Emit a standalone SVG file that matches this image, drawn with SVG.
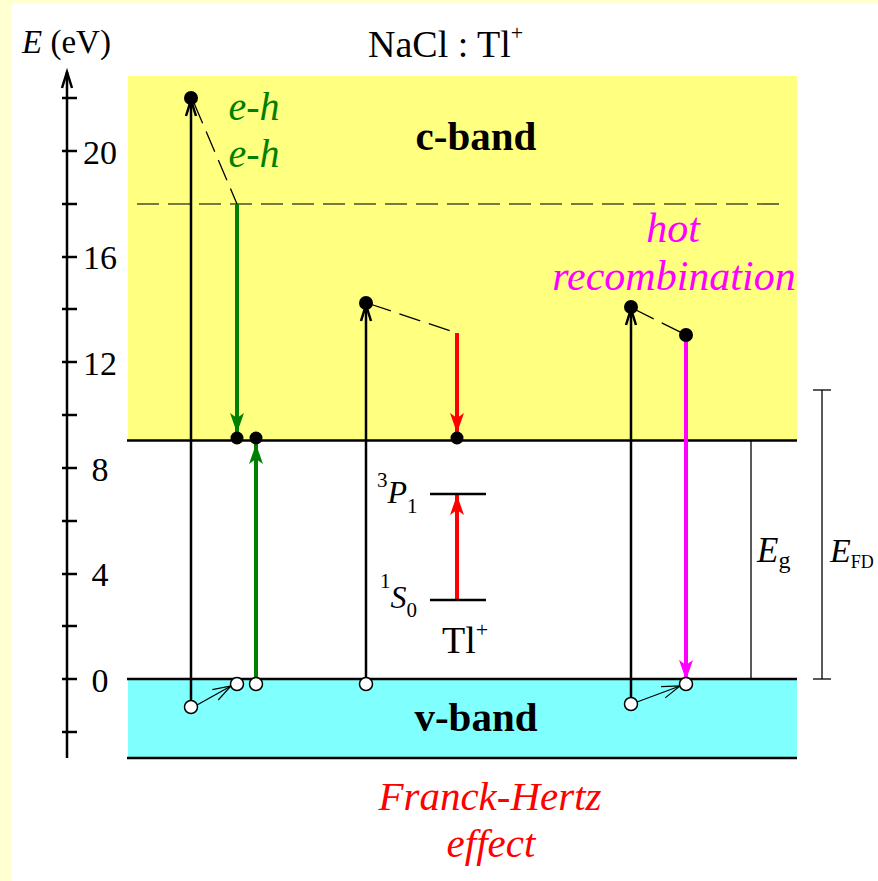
<svg xmlns="http://www.w3.org/2000/svg" width="878" height="881" viewBox="0 0 878 881">
<defs>
<style>
text{font-family:"Liberation Serif","Times New Roman",serif;fill:#000;}
.it{font-style:italic;}
.num{font-size:34px;text-anchor:middle;}
.axis{stroke:#000;stroke-width:2.5;fill:none;}
.tick{stroke:#000;stroke-width:2.5;}
.edge{stroke:#000;stroke-width:2.5;}
.exc{stroke:#000;stroke-width:2.5;fill:none;}
.thin{stroke:#000;stroke-width:1.3;fill:none;}
.dash{stroke:#000;stroke-width:1.3;stroke-dasharray:22 9;fill:none;}
.dot{fill:#000;}
.hole{fill:#fff;stroke:#000;stroke-width:1.5;}
</style>
<marker id="vhead" markerUnits="userSpaceOnUse" markerWidth="20" markerHeight="16" viewBox="-16 -8 20 16" refX="0" refY="0" orient="auto" overflow="visible">
<path d="M-16,-5 L0,0 L-16,5" fill="none" stroke="#000" stroke-width="2.5"/>
</marker>
<marker id="vthin" markerUnits="userSpaceOnUse" markerWidth="20" markerHeight="16" viewBox="-16 -8 20 16" refX="0" refY="0" orient="auto" overflow="visible">
<path d="M-18,-6 L0,0 L-18,6" fill="none" stroke="#000" stroke-width="1.2"/>
</marker>
<marker id="hgreen" markerUnits="userSpaceOnUse" markerWidth="24" markerHeight="18" viewBox="-22 -9 24 18" refX="0" refY="0" orient="auto" overflow="visible">
<path d="M0,0 L-20,-7 L-15,0 L-20,7 Z" fill="#008000"/>
</marker>
<marker id="hred" markerUnits="userSpaceOnUse" markerWidth="24" markerHeight="18" viewBox="-22 -9 24 18" refX="0" refY="0" orient="auto" overflow="visible">
<path d="M0,0 L-20,-7 L-15,0 L-20,7 Z" fill="#ff0000"/>
</marker>
<marker id="hmag" markerUnits="userSpaceOnUse" markerWidth="24" markerHeight="18" viewBox="-22 -9 24 18" refX="0" refY="0" orient="auto" overflow="visible">
<path d="M0,0 L-20,-7 L-15,0 L-20,7 Z" fill="#ff00ff"/>
</marker>
</defs>

<rect x="0" y="0" width="878" height="881" fill="#ffffd2"/>
<rect x="12" y="4" width="866" height="877" fill="#ffffff"/>

<g id="bands">
<rect x="128" y="76" width="669" height="364" fill="#ffff80"/>
<rect x="128" y="679" width="669" height="79" fill="#80ffff"/>
<line class="edge" x1="127" y1="440.5" x2="797" y2="440.5"/>
<line class="edge" x1="127" y1="679" x2="797" y2="679"/>
<line class="edge" x1="127" y1="758" x2="797" y2="758"/>
<line x1="137" y1="204" x2="785" y2="204" stroke="#4d4d30" stroke-width="1.6" stroke-dasharray="22 9"/>
<text x="476" y="150" text-anchor="middle" font-weight="bold" font-size="41">c-band</text>
<text x="476" y="731" text-anchor="middle" font-weight="bold" font-size="41">v-band</text>
</g>

<g id="axis">
<line class="axis" x1="67" y1="758" x2="67" y2="72" marker-end="url(#vhead)"/>
<line class="tick" x1="62" y1="98" x2="77" y2="98"/>
<line class="tick" x1="62" y1="151" x2="77" y2="151"/>
<line class="tick" x1="62" y1="204" x2="77" y2="204"/>
<line class="tick" x1="62" y1="257" x2="77" y2="257"/>
<line class="tick" x1="62" y1="309" x2="77" y2="309"/>
<line class="tick" x1="62" y1="362" x2="77" y2="362"/>
<line class="tick" x1="62" y1="415" x2="77" y2="415"/>
<line class="tick" x1="62" y1="468" x2="77" y2="468"/>
<line class="tick" x1="62" y1="521" x2="77" y2="521"/>
<line class="tick" x1="62" y1="574" x2="77" y2="574"/>
<line class="tick" x1="62" y1="626" x2="77" y2="626"/>
<line class="tick" x1="62" y1="679" x2="77" y2="679"/>
<line class="tick" x1="62" y1="732" x2="77" y2="732"/>
<text class="num" x="100" y="164">20</text>
<text class="num" x="100" y="269">16</text>
<text class="num" x="100" y="375">12</text>
<text class="num" x="100" y="481">8</text>
<text class="num" x="100" y="586">4</text>
<text class="num" x="100" y="692">0</text>
<text x="22" y="53" font-size="33"><tspan class="it">E</tspan> (eV)</text>
<text x="368" y="57" font-size="38">NaCl : Tl<tspan font-size="22" dy="-17">+</tspan></text>
</g>

<g id="connectors">
<!-- left e-h process -->
<line class="exc" x1="191" y1="701" x2="191" y2="100" marker-end="url(#vhead)"/>
<line class="dash" x1="194" y1="103" x2="237" y2="204"/>
<line x1="237" y1="204" x2="237" y2="433" stroke="#008000" stroke-width="4" marker-end="url(#hgreen)"/>
<line x1="256" y1="678" x2="256" y2="444" stroke="#008000" stroke-width="4" marker-end="url(#hgreen)"/>
<line class="thin" x1="197" y1="705" x2="231" y2="686" marker-end="url(#vthin)"/>
<!-- Franck-Hertz -->
<line class="exc" x1="366" y1="678" x2="366" y2="305" marker-end="url(#vhead)"/>
<line class="dash" x1="370" y1="304" x2="457" y2="333"/>
<line x1="457" y1="333" x2="457" y2="433" stroke="#ff0000" stroke-width="4" marker-end="url(#hred)"/>
<line x1="457" y1="600" x2="457" y2="495" stroke="#ff0000" stroke-width="4" marker-end="url(#hred)"/>
<!-- hot recombination -->
<line class="exc" x1="631" y1="698" x2="631" y2="309" marker-end="url(#vhead)"/>
<line class="dash" x1="634" y1="309" x2="686" y2="335"/>
<line x1="686" y1="335" x2="686" y2="680" stroke="#ff00ff" stroke-width="4" marker-end="url(#hmag)"/>
<line class="thin" x1="637" y1="702" x2="680" y2="686" marker-end="url(#vthin)"/>
<!-- energy gap bars -->
<line class="thin" x1="751" y1="440" x2="751" y2="679"/>
<line class="thin" x1="822" y1="390" x2="822" y2="679"/>
<line class="thin" x1="813" y1="390" x2="831" y2="390"/>
<line class="thin" x1="813" y1="679" x2="831" y2="679"/>
</g>

<g id="electrons">
<circle class="dot" cx="191" cy="98" r="7"/>
<circle class="dot" cx="237" cy="438" r="6.5"/>
<circle class="dot" cx="256" cy="438" r="6.5"/>
<circle class="dot" cx="366" cy="303" r="7"/>
<circle class="dot" cx="457" cy="438" r="6.5"/>
<circle class="dot" cx="631" cy="307" r="7"/>
<circle class="dot" cx="686" cy="335" r="7"/>
</g>

<g id="holes">
<circle class="hole" cx="191" cy="707" r="6.5"/>
<circle class="hole" cx="237" cy="684" r="6.5"/>
<circle class="hole" cx="256" cy="684" r="6.5"/>
<circle class="hole" cx="366" cy="684" r="6.5"/>
<circle class="hole" cx="631" cy="704" r="6.5"/>
<circle class="hole" cx="686" cy="684" r="6.5"/>
</g>

<g id="tl-levels">
<line class="edge" x1="430" y1="494" x2="486" y2="494"/>
<line class="edge" x1="430" y1="600" x2="486" y2="600"/>
<text x="377" y="503" font-size="32"><tspan font-size="21" dy="-16">3</tspan><tspan class="it" dy="16">P</tspan><tspan font-size="21" dy="10">1</tspan></text>
<text x="380" y="608" font-size="32"><tspan font-size="21" dy="-20">1</tspan><tspan class="it" dy="20">S</tspan><tspan font-size="21" dy="9">0</tspan></text>
<text x="442" y="653" font-size="38">Tl<tspan font-size="22" dy="-16">+</tspan></text>
</g>

<g id="labels">
<text class="it" x="254" y="120" text-anchor="middle" font-size="40" style="fill:#008000">e-h</text>
<text class="it" x="254" y="167" text-anchor="middle" font-size="40" style="fill:#008000">e-h</text>
<text class="it" x="673" y="242" text-anchor="middle" font-size="42" style="fill:#ff00ff">hot</text>
<text class="it" x="674" y="290" text-anchor="middle" font-size="42" style="fill:#ff00ff">recombination</text>
<text class="it" x="490" y="810" text-anchor="middle" font-size="41" style="fill:#ff0000">Franck-Hertz</text>
<text class="it" x="491" y="857" text-anchor="middle" font-size="41" style="fill:#ff0000">effect</text>
<text x="757" y="562" font-size="35"><tspan class="it">E</tspan><tspan font-size="24" dy="6">g</tspan></text>
<text x="830" y="562" font-size="34"><tspan class="it">E</tspan><tspan font-size="18" dy="6">FD</tspan></text>
</g>
</svg>
